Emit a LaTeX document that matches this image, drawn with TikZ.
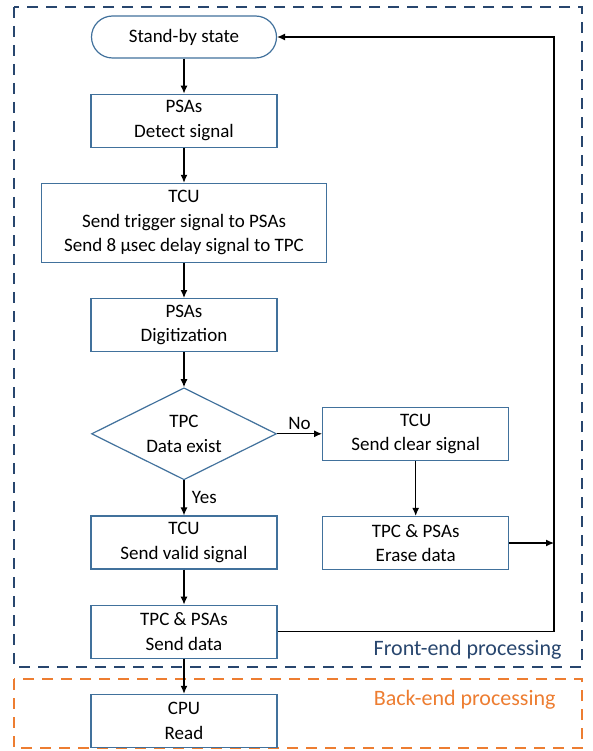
\documentclass[tikz,border=0pt]{standalone}
\usepackage{fontspec}
\setmainfont{Carlito}
\usetikzlibrary{positioning,shapes.geometric,arrows.meta}
\definecolor{boxblue}{RGB}{65,113,156}
\definecolor{frontblue}{RGB}{40,70,110}
\definecolor{backorange}{RGB}{237,125,49}
\newcommand{\mygap}{35pt}
\tikzset{
    node style box/.style={draw=boxblue,line width=1.2pt,fill=white,align=center,%
        minimum width=186pt,minimum height=53pt,font=\fontsize{19}{24.5}\selectfont},
    node style term/.style={node style box,rounded corners=21pt,%
        minimum width=185pt,minimum height=42pt},
    node style dec/.style={node style box,diamond,aspect=2,inner sep=0pt,%
        minimum width=185pt,minimum height=92pt},
    node style lbl/.style={font=\fontsize{19}{24.5}\selectfont},
    arrow style flow/.style={->,line width=1.2pt},
    frame style/.style={dash pattern=on 11pt off 8pt,line width=2.6pt},
}

\begin{document}
\begin{tikzpicture}[x=1pt,y=-1pt,>={Latex[length=8pt,width=7pt]}]
\useasboundingbox (0,0) rectangle (592,751);
% les cadres
\draw [frame style,draw=frontblue] (14,7) rectangle (582,667);
\draw [frame style,draw=backorange] (14,679) rectangle (582,748);
\node [text=frontblue,anchor=east,font=\fontsize{22}{26}\selectfont] (fronttxt)
    at (565,650) {Front-end processing};
\node [text=backorange,anchor=east,font=\fontsize{22}{26}\selectfont] (backtxt)
    at (559,700) {Back-end processing};
% les blocs
\node [node style term] (standby) at (184,37) {Stand-by state};
\node [node style box,below=\mygap] (detect) at (standby.south)
    {PSAs\\Detect signal};
\node [node style box,below=\mygap,minimum width=285pt,minimum height=79pt] (trigger)
    at (detect.south)
    {TCU\\Send trigger signal to PSAs\\Send 8 µsec delay signal to TPC};
\node [node style box,below=\mygap] (digit) at (trigger.south)
    {PSAs\\Digitization};
\node [node style dec,below=\mygap] (exist) at (digit.south)
    {TPC\\Data exist};
\node [node style box,right=45pt] (clear) at (exist.east)
    {TCU\\Send clear signal};
\node [node style box,below=55pt] (erase) at (clear.south)
    {TPC \& PSAs\\Erase data};
\node [node style box,below=\mygap] (valid) at (exist.south)
    {TCU\\Send valid signal};
\node [node style box,below=\mygap] (senddata) at (valid.south)
    {TPC \& PSAs\\Send data};
\node [node style box,below=\mygap] (cpu) at (senddata.south)
    {CPU\\Read};
\coordinate (loop) at (554,0);
% les fleches
\draw [arrow style flow] (standby) -- (detect);
\draw [arrow style flow] (detect) -- (trigger);
\draw [arrow style flow] (trigger) -- (digit);
\draw [arrow style flow] (digit) -- (exist);
\draw [arrow style flow] (exist) -- node [node style lbl,above] {No} (clear);
\draw [arrow style flow] (exist) -- node [node style lbl,right=4pt] {Yes} (valid);
\draw [arrow style flow] (clear) -- (erase);
\draw [arrow style flow] (valid) -- (senddata);
\draw [arrow style flow] (senddata) -- (cpu);
\draw [arrow style flow] (senddata.east) -- (senddata.east -| loop)
    -- (standby.east -| loop) -- (standby.east);
\draw [arrow style flow] (erase.east) -- (erase.east -| loop);
\end{tikzpicture}
\end{document}
